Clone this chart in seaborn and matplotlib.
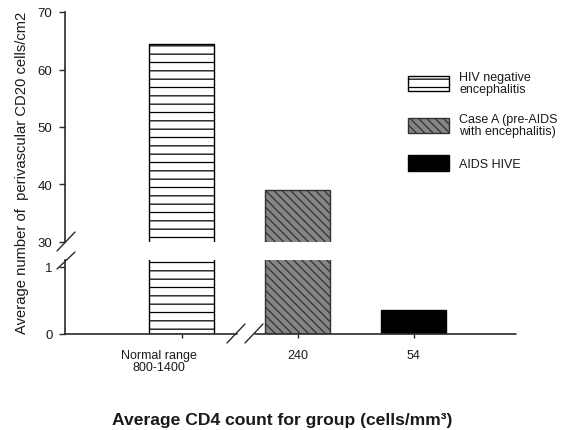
import matplotlib
matplotlib.use("Agg")
import matplotlib.pyplot as plt
import matplotlib.transforms as mtransforms
from matplotlib.lines import Line2D
import seaborn as sns
import pandas as pd

# ---- data ----
cd4_groups = ["Normal range\n800-1400", "240", "54"]
group_names = ["HIV negative\nencephalitis", "Case A (pre-AIDS\nwith encephalitis)", "AIDS HIVE"]
cd20_means = [64.5, 39.0, 0.35]
upper_ticks = [30, 40, 50, 60, 70]
lower_ticks = [0, 1]

# ---- style ----
sns.set_style("ticks")
plt.rcParams["font.family"] = ["Liberation Sans", "DejaVu Sans"]
plt.rcParams["hatch.linewidth"] = 0.9
txt = "#1a1a1a"
spine_c = "#2a2a2a"

W, H = 567, 431
fig = plt.figure(figsize=(W / 100, H / 100), dpi=100)


def fx(px):
    return px / W


def fy(py):
    return 1 - py / H


ax_top = fig.add_axes([fx(65), fy(243), fx(516) - fx(65), fy(13) - fy(243)])
ax_bot = fig.add_axes([fx(65), fy(335), fx(516) - fx(65), fy(261) - fy(335)])

df = pd.DataFrame({"cd4": cd4_groups, "group": group_names, "cd20": cd20_means})
colors = ["white", "#858585", "black"]
hatches = ["--", "\\\\\\\\", ""]
edges = ["black", "#333333", "black"]

for ax in (ax_top, ax_bot):
    sns.barplot(data=df, x="cd4", y="cd20", hue="group", order=cd4_groups,
                hue_order=group_names, palette=colors, width=0.56, dodge=False,
                errorbar=None, legend=False, saturation=1, ax=ax)
    for cont, h, ec in zip(ax.containers, hatches, edges):
        for bar in cont:
            bar.set_hatch(h)
            bar.set_edgecolor(ec)
            bar.set_linewidth(1.0)
    ax.set_xlim(-1.006, 2.882)
    ax.set_xlabel("")
    ax.set_ylabel("")
    for s in ("top", "right", "bottom"):
        ax.spines[s].set_visible(False)
    ax.spines["left"].set_color(spine_c)
    ax.spines["left"].set_linewidth(1.2)
    ax.tick_params(axis="y", length=4, width=1, pad=5, labelsize=9.5,
                   colors=spine_c, labelcolor=txt)

ax_top.set_ylim(30, 70)
ax_top.set_yticks(upper_ticks)
ax_top.tick_params(axis="x", bottom=False, labelbottom=False)

ax_bot.set_ylim(0, 1.1)
ax_bot.set_yticks(lower_ticks)
ax_bot.tick_params(axis="x", length=3, width=1, pad=8, labelsize=9,
                   colors=spine_c, labelcolor=txt)
xt = ax_bot.get_xticklabels()
for t in xt:
    t.set_linespacing(1.0)
# the first category label sits left of its tick in the original
shift = mtransforms.ScaledTranslation(-0.23, 0, fig.dpi_scale_trans)
xt[0].set_transform(xt[0].get_transform() + shift)

# broken x axis line
for x0, x1 in [(65, 237), (255, 516)]:
    fig.add_artist(Line2D([fx(x0), fx(x1)], [fy(335), fy(335)],
                          transform=fig.transFigure, color=spine_c, lw=1.2))
# break marks
for (x0, y0, x1, y1) in [(57, 252, 75, 233), (57, 270, 75, 253),
                         (227, 344, 245, 325), (245, 344, 263, 325)]:
    fig.add_artist(Line2D([fx(x0), fx(x1)], [fy(y0), fy(y1)],
                          transform=fig.transFigure, color=spine_c, lw=1.0))

# legend
handles = [c.patches[0] for c in ax_top.containers]
leg = ax_top.legend(handles, group_names, loc="upper left",
                    bbox_to_anchor=(fx(408), fy(72)), bbox_transform=fig.transFigure,
                    frameon=False, borderpad=0, borderaxespad=0,
                    handlelength=3.3, handleheight=1.5, handletextpad=0.8,
                    labelspacing=1.45, fontsize=9)
for t in leg.get_texts():
    t.set_color(txt)
    t.set_linespacing(1.0)

# axis labels
fig.text(fx(22), fy(173), "Average number of  perivascular CD20 cells/cm2",
         rotation=90, ha="center", va="center", fontsize=10.6, color=txt)
fig.text(fx(282), fy(421), "Average CD4 count for group (cells/mm\u00b3)",
         ha="center", va="center", fontsize=12.6, fontweight="bold", color=txt)

fig.savefig("out.png", dpi=100)
